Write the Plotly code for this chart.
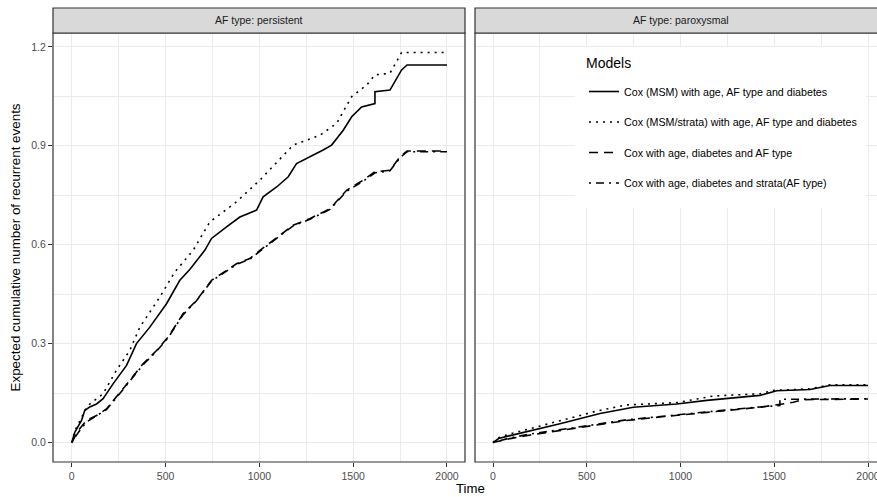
import plotly.graph_objects as go

W, H = 877, 497

# ---------------- data ----------------
models = [
    "Cox (MSM) with age, AF type and diabetes",
    "Cox (MSM/strata) with age, AF type and diabetes",
    "Cox with age, diabetes and AF type",
    "Cox with age, diabetes and strata(AF type)",
]
panels = ["AF type: persistent", "AF type: paroxysmal"]

# persistent
pers_msm_t = [0, 16, 52, 69, 96, 132, 167, 220, 292, 345, 416, 505, 576, 629, 709, 745, 825, 896, 985,
              1020, 1092, 1154, 1198, 1269, 1340, 1385, 1447, 1492, 1545, 1616, 1616, 1696, 1750, 1758, 1787, 2000]
pers_msm_v = [0, 0.031, 0.067, 0.097, 0.108, 0.117, 0.133, 0.178, 0.234, 0.300, 0.350, 0.421, 0.492, 0.525,
              0.583, 0.619, 0.654, 0.684, 0.705, 0.745, 0.775, 0.806, 0.846, 0.866, 0.887, 0.902, 0.947,
              0.988, 1.018, 1.028, 1.064, 1.069, 1.120, 1.130, 1.145, 1.145]

pers_strata_t = [0, 16, 52, 69, 96, 167, 238, 309, 363, 469, 549, 647, 736, 878, 1003, 1180, 1323, 1412,
                 1492, 1572, 1616, 1696, 1758, 2000]
pers_strata_v = [0, 0.035, 0.075, 0.097, 0.117, 0.148, 0.219, 0.279, 0.350, 0.441, 0.517, 0.583, 0.669,
                 0.730, 0.796, 0.902, 0.932, 0.968, 1.049, 1.084, 1.115, 1.120, 1.183, 1.183]

pers_cox_t = [0, 34, 78, 132, 185, 238, 309, 380, 452, 514, 594, 665, 745, 825, 878, 949, 1020, 1180,
              1269, 1376, 1465, 1554, 1616, 1696, 1749, 1787, 2000]
pers_cox_v = [0, 0.036, 0.067, 0.082, 0.102, 0.138, 0.188, 0.239, 0.279, 0.320, 0.391, 0.431, 0.492,
              0.522, 0.542, 0.558, 0.590, 0.659, 0.679, 0.709, 0.765, 0.796, 0.821, 0.826, 0.866, 0.884, 0.884]

pers_coxs_t = [0, 34, 78, 132, 185, 238, 309, 380, 452, 514, 594, 665, 745, 825, 878, 949, 1020, 1180,
               1269, 1376, 1465, 1554, 1616, 1696, 1749, 1787, 2000]
pers_coxs_v = [0, 0.030, 0.062, 0.080, 0.100, 0.136, 0.186, 0.236, 0.277, 0.318, 0.388, 0.430, 0.490,
               0.520, 0.540, 0.556, 0.588, 0.657, 0.677, 0.707, 0.762, 0.793, 0.818, 0.824, 0.863, 0.882, 0.882]

# paroxysmal
parox_msm_t = [0, 30, 91, 200, 357, 571, 748, 980, 1140, 1424, 1513, 1691, 1797, 2000]
parox_msm_v = [0, 0.012, 0.021, 0.035, 0.057, 0.088, 0.107, 0.117, 0.128, 0.143, 0.157, 0.161, 0.173, 0.173]

parox_strata_t = [0, 30, 91, 200, 357, 550, 710, 980, 1175, 1424, 1495, 1691, 1797, 2000]
parox_strata_v = [0, 0.015, 0.026, 0.042, 0.067, 0.095, 0.114, 0.121, 0.141, 0.148, 0.158, 0.163, 0.175, 0.175]

parox_cox_t = [0, 91, 200, 357, 550, 713, 900, 1068, 1250, 1424, 1602, 1650, 2000]
parox_cox_v = [0, 0.012, 0.023, 0.037, 0.052, 0.067, 0.078, 0.088, 0.097, 0.107, 0.122, 0.130, 0.132]

parox_coxs_t = [0, 91, 200, 357, 550, 713, 900, 1068, 1250, 1424, 1530, 1530, 2000]
parox_coxs_v = [0, 0.014, 0.026, 0.040, 0.055, 0.069, 0.080, 0.090, 0.099, 0.108, 0.112, 0.131, 0.133]

x_ticks = [0, 500, 1000, 1500, 2000]
y_ticks = [0.0, 0.3, 0.6, 0.9, 1.2]

# ---------------- styling ----------------
FONT = "Liberation Sans, Arial, Helvetica, sans-serif"
dashes = ["solid", "2px,5px", "9px,6px", "2px,5px,8px,5px"]

series = [
    [(pers_msm_t, pers_msm_v), (parox_msm_t, parox_msm_v)],
    [(pers_strata_t, pers_strata_v), (parox_strata_t, parox_strata_v)],
    [(pers_cox_t, pers_cox_v), (parox_cox_t, parox_cox_v)],
    [(pers_coxs_t, pers_coxs_v), (parox_coxs_t, parox_coxs_v)],
]

fig = go.Figure()
for i, name in enumerate(models):
    for p in range(2):
        t, v = series[i][p]
        fig.add_trace(go.Scatter(
            x=t, y=v, mode="lines", name=name, legendgroup=name,
            showlegend=(p == 0),
            line=dict(color="black", width=1.6, dash=dashes[i]),
            xaxis="x" if p == 0 else "x2", yaxis="y" if p == 0 else "y2",
            hoverinfo="skip",
        ))


def px(x):
    return x / W


def py(y):
    return 1 - y / H


L0, L1 = 53, 465
R0 = 475
TOP, BOT = 33, 462
STRIP_TOP = 8

grid = dict(showgrid=True, gridcolor="#EBEBEB", gridwidth=1.1, zeroline=False)
minor_x = dict(showgrid=True, gridcolor="#EBEBEB", gridwidth=0.55, dtick=250, tick0=0, ticks="")
minor_y = dict(showgrid=True, gridcolor="#EBEBEB", gridwidth=0.55, dtick=0.15, tick0=0, ticks="")
tickfont = dict(family=FONT, size=10.5, color="#4D4D4D")

xcommon = dict(tickmode="array", tickvals=x_ticks, tickformat="d", ticks="outside", ticklen=4,
               tickcolor="#333333", tickwidth=1.1, tickfont=tickfont, showline=False, minor=minor_x,
               automargin=False, ticklabeloverflow="allow", **grid)

fig.update_layout(
    width=W, height=H,
    margin=dict(l=0, r=0, t=0, b=0),
    paper_bgcolor="white", plot_bgcolor="white",
    font=dict(family=FONT, color="black"),
    xaxis=dict(domain=[px(L0), px(L1)], range=[-100, 2096], anchor="y", **xcommon),
    xaxis2=dict(domain=[px(R0), 1.0], range=[-96, 2048], anchor="y2", **xcommon),
    yaxis=dict(domain=[py(BOT), py(TOP)], range=[-0.059, 1.242], anchor="x",
               tickmode="array", tickvals=y_ticks, tickformat=".1f", ticks="outside", ticklen=4,
               tickcolor="#333333", tickwidth=1.1, tickfont=tickfont, minor=minor_y,
               automargin=False, **grid),
    yaxis2=dict(domain=[py(BOT), py(TOP)], range=[-0.059, 1.242], anchor="x2", matches="y",
                tickmode="array", tickvals=y_ticks, showticklabels=False, ticks="",
                minor=minor_y, automargin=False, **grid),
    legend=dict(
        x=px(584), y=py(77), xanchor="left", yanchor="top",
        bgcolor="white", borderwidth=0,
        font=dict(family=FONT, size=10.7, color="black"),
        tracegroupgap=11.5,
    ),
    showlegend=True,
)

shapes = []
# legend background box
shapes.append(dict(type="rect", xref="paper", yref="paper", x0=px(575), x1=px(866), y0=py(208), y1=py(47),
                   line=dict(width=0), fillcolor="white", layer="above"))
# panel borders
shapes.append(dict(type="rect", xref="paper", yref="paper", x0=px(L0), x1=px(L1), y0=py(BOT), y1=py(TOP),
                   line=dict(color="#333333", width=1.2), fillcolor="rgba(0,0,0,0)", layer="above"))
shapes.append(dict(type="rect", xref="paper", yref="paper", x0=px(R0), x1=1.02, y0=py(BOT), y1=py(TOP),
                   line=dict(color="#333333", width=1.2), fillcolor="rgba(0,0,0,0)", layer="above"))
# strips
shapes.append(dict(type="rect", xref="paper", yref="paper", x0=px(L0), x1=px(L1), y0=py(TOP), y1=py(STRIP_TOP),
                   line=dict(color="#333333", width=1.2), fillcolor="#D9D9D9", layer="above"))
shapes.append(dict(type="rect", xref="paper", yref="paper", x0=px(R0), x1=1.02, y0=py(TOP), y1=py(STRIP_TOP),
                   line=dict(color="#333333", width=1.2), fillcolor="#D9D9D9", layer="above"))
fig.update_layout(shapes=shapes)

ann = []
ann.append(dict(text=panels[0], xref="paper", yref="paper", x=px((L0 + L1) / 2), y=py((TOP + STRIP_TOP) / 2),
                showarrow=False, xanchor="center", yanchor="middle",
                font=dict(family=FONT, size=10.5, color="#1A1A1A")))
ann.append(dict(text=panels[1], xref="paper", yref="paper", x=px((R0 + 886) / 2), y=py((TOP + STRIP_TOP) / 2),
                showarrow=False, xanchor="center", yanchor="middle",
                font=dict(family=FONT, size=10.5, color="#1A1A1A")))
ann.append(dict(text="Models", xref="paper", yref="paper", x=px(584), y=py(63),
                showarrow=False, xanchor="left", yanchor="middle",
                font=dict(family=FONT, size=14, color="black")))
ann.append(dict(text="Time", xref="paper", yref="paper", x=px(470), y=py(488),
                showarrow=False, xanchor="center", yanchor="middle",
                font=dict(family=FONT, size=13.2, color="black")))
ann.append(dict(text="Expected cumulative number of recurrent events", xref="paper", yref="paper",
                x=px(15), y=py((TOP + BOT) / 2), textangle=-90,
                showarrow=False, xanchor="center", yanchor="middle",
                font=dict(family=FONT, size=13.4, color="black")))
fig.update_layout(annotations=ann)

fig.write_html("out.html", config={"displayModeBar": False},
               post_script="document.body.style.margin='0';document.body.style.padding='0';")
